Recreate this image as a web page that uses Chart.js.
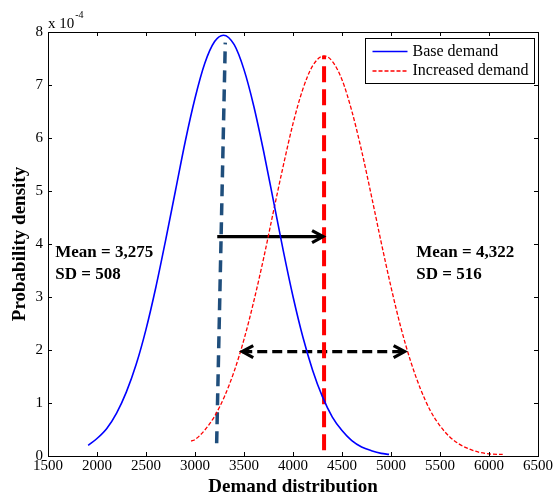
<!DOCTYPE html>
<html>
<head>
<meta charset="utf-8">
<script src="https://cdn.jsdelivr.net/npm/chart.js@4.4.1/dist/chart.umd.min.js"></script>
<style>
  html, body { margin: 0; padding: 0; background: #fff; }
  canvas { display: block; }
</style>
</head>
<body>
<canvas id="c" width="554" height="497"></canvas>
<script>
const SERIF = "'Liberation Serif','Times New Roman',Times,serif";

// Axis ticks (density axis is in units of 1e-4)
const xTicks = [1500, 2000, 2500, 3000, 3500, 4000, 4500, 5000, 5500, 6000, 6500];
const yTicks = [0, 1, 2, 3, 4, 5, 6, 7, 8];

// Base demand density curve
const baseDemandX = [1910, 2000, 2100, 2200, 2300, 2400, 2500, 2600, 2700, 2800, 2900, 3000, 3100, 3200, 3290,
                     3400, 3500, 3600, 3700, 3800, 3900, 4000, 4100, 4200, 4300, 4400, 4500, 4600, 4700, 4800, 4900, 4980];
const baseDemandY = [0.20, 0.33, 0.52, 0.81, 1.21, 1.73, 2.39, 3.18, 4.07, 5.00, 5.93, 6.75, 7.41, 7.82, 7.94,
                     7.76, 7.29, 6.60, 5.75, 4.82, 3.88, 3.01, 2.25, 1.62, 1.12, 0.74, 0.48, 0.29, 0.17, 0.10, 0.05, 0.03];

// Increased demand density curve
const increasedDemandX = [2960, 3000, 3100, 3200, 3300, 3400, 3500, 3600, 3700, 3800, 3900, 4000, 4100, 4200, 4317,
                          4400, 4500, 4600, 4700, 4800, 4900, 5000, 5100, 5200, 5300, 5400, 5500, 5600, 5700, 5800, 5900, 6000, 6100, 6140];
const increasedDemandY = [0.28, 0.31, 0.49, 0.75, 1.12, 1.60, 2.20, 2.92, 3.73, 4.61, 5.47, 6.27, 6.92, 7.36, 7.55,
                          7.45, 7.10, 6.51, 5.76, 4.91, 4.03, 3.19, 2.43, 1.79, 1.27, 0.86, 0.57, 0.36, 0.22, 0.13, 0.07, 0.04, 0.03, 0.03];

// Mean markers
const baseMeanX = [3221, 3309];
const baseMeanY = [0.24, 7.80];
const increasedMeanX = [4317, 4317];
const increasedMeanY = [0.11, 7.55];

// Arrows: shift of the mean, widening of the spread
const shiftArrowX = [3227, 4307];
const shiftArrowY = [4.14, 4.14];
const spreadArrowX = [3482, 5139];
const spreadArrowY = [1.97, 1.97];

// Summary statistics labels (anchor x, line y values)
const baseStatsText = ['Mean = 3,275', 'SD = 508'];
const baseStatsX = 1574;
const increasedStatsText = ['Mean = 4,322', 'SD = 516'];
const increasedStatsX = 5258;
const statsLineY = [3.84, 3.42];

const pts = (xs, ys) => xs.map((x, i) => ({ x, y: ys[i] }));

const decor = {
  id: 'decor',
  beforeDraw(chart) {
    const ctx = chart.ctx;
    ctx.save();
    ctx.fillStyle = '#fff';
    ctx.fillRect(0, 0, chart.width, chart.height);
    ctx.restore();
  },
  afterDatasetsDraw(chart) {
    const { ctx, scales: { x, y }, chartArea: a } = chart;
    ctx.save();

    // inward tick marks on all four sides
    ctx.strokeStyle = '#000';
    ctx.lineWidth = 1;
    ctx.setLineDash([]);
    ctx.beginPath();
    xTicks.forEach(v => {
      const px = Math.round(x.getPixelForValue(v)) + 0.5;
      ctx.moveTo(px, a.bottom); ctx.lineTo(px, a.bottom - 4);
      ctx.moveTo(px, a.top); ctx.lineTo(px, a.top + 4);
    });
    yTicks.forEach(v => {
      const py = Math.round(y.getPixelForValue(v)) + 0.5;
      ctx.moveTo(a.left, py); ctx.lineTo(a.left + 4, py);
      ctx.moveTo(a.right, py); ctx.lineTo(a.right - 4, py);
    });
    ctx.stroke();

    // open arrowheads
    const head = (xv, yv, dir) => {
      const px = x.getPixelForValue(xv), py = y.getPixelForValue(yv);
      ctx.beginPath();
      ctx.moveTo(px - dir * 11, py - 6);
      ctx.lineTo(px, py);
      ctx.lineTo(px - dir * 11, py + 6);
      ctx.stroke();
    };
    ctx.lineWidth = 3.2;
    ctx.lineJoin = 'miter';
    head(shiftArrowX[1], shiftArrowY[1], 1);
    head(spreadArrowX[0], spreadArrowY[0], -1);
    head(spreadArrowX[1], spreadArrowY[1], 1);

    // statistics labels
    ctx.fillStyle = '#000';
    ctx.font = `bold 17px ${SERIF}`;
    ctx.textAlign = 'left';
    ctx.textBaseline = 'middle';
    baseStatsText.forEach((t, i) => ctx.fillText(t, x.getPixelForValue(baseStatsX), y.getPixelForValue(statsLineY[i])));
    increasedStatsText.forEach((t, i) => ctx.fillText(t, x.getPixelForValue(increasedStatsX), y.getPixelForValue(statsLineY[i])));

    // exponent note above the density axis
    ctx.font = `15px ${SERIF}`;
    ctx.textBaseline = 'alphabetic';
    ctx.fillText('x 10', a.left, a.top - 4);
    const w = ctx.measureText('x 10').width;
    ctx.font = `10px ${SERIF}`;
    ctx.fillText('-4', a.left + w + 1, a.top - 14);

    // legend
    const lx = 365.5, ly = 38.5, lw = 169, lh = 45;
    ctx.fillStyle = '#fff';
    ctx.fillRect(lx, ly, lw, lh);
    ctx.strokeStyle = '#000';
    ctx.lineWidth = 1;
    ctx.strokeRect(lx, ly, lw, lh);
    const items = chart.data.datasets.slice(0, 2);
    items.forEach((ds, i) => {
      const yy = ly + 13 + i * 19.5;
      ctx.strokeStyle = ds.borderColor;
      ctx.lineWidth = ds.borderWidth;
      ctx.setLineDash(ds.borderDash || []);
      ctx.beginPath();
      ctx.moveTo(lx + 7, yy);
      ctx.lineTo(lx + 42, yy);
      ctx.stroke();
      ctx.setLineDash([]);
      ctx.fillStyle = '#000';
      ctx.font = `16px ${SERIF}`;
      ctx.textBaseline = 'middle';
      ctx.fillText(ds.label, lx + 47, yy);
    });

    ctx.restore();
  }
};

const axisFont = { family: SERIF, size: 15 };
const plainNumber = v => String(v);

new Chart(document.getElementById('c'), {
  type: 'line',
  data: {
    datasets: [
      { label: 'Base demand', data: pts(baseDemandX, baseDemandY), borderColor: '#0000ff', borderWidth: 1.6,
        pointRadius: 0, cubicInterpolationMode: 'monotone', fill: false },
      { label: 'Increased demand', data: pts(increasedDemandX, increasedDemandY), borderColor: '#ff0000', borderWidth: 1.3,
        borderDash: [4, 2], pointRadius: 0, cubicInterpolationMode: 'monotone', fill: false },
      { label: 'Base mean', data: pts(baseMeanX, baseMeanY), borderColor: '#1f4e7c', borderWidth: 3.5,
        borderDash: [12, 7], pointRadius: 0, fill: false },
      { label: 'Increased mean', data: pts(increasedMeanX, increasedMeanY), borderColor: '#ff0000', borderWidth: 4,
        borderDash: [16, 7], pointRadius: 0, fill: false },
      { label: 'Mean shift', data: pts(shiftArrowX, shiftArrowY), borderColor: '#000', borderWidth: 3.2,
        pointRadius: 0, fill: false },
      { label: 'Spread', data: pts(spreadArrowX, spreadArrowY), borderColor: '#000', borderWidth: 3.2,
        borderDash: [10, 5], pointRadius: 0, fill: false }
    ]
  },
  options: {
    responsive: false,
    animation: false,
    devicePixelRatio: 1,
    layout: { padding: { top: 32, right: 15, left: 0, bottom: 0 } },
    plugins: { legend: { display: false }, tooltip: { enabled: false } },
    scales: {
      x: {
        type: 'linear', position: 'bottom', min: 1500, max: 6500,
        afterBuildTicks: s => { s.ticks = xTicks.map(v => ({ value: v })); },
        ticks: { font: axisFont, color: '#000', padding: 1, maxRotation: 0, autoSkip: false, callback: plainNumber },
        grid: { display: false, drawTicks: false },
        border: { display: true, color: '#000', width: 1 },
        title: { display: true, text: 'Demand distribution', color: '#000',
                 font: { family: SERIF, size: 19, weight: 'bold', lineHeight: 1 }, padding: { top: 0, bottom: 0 } },
        afterFit: s => { s.height = 41; }
      },
      x2: {
        type: 'linear', position: 'top', min: 1500, max: 6500,
        ticks: { display: false }, grid: { display: false, drawTicks: false },
        border: { display: true, color: '#000', width: 1 },
        afterFit: s => { s.height = 0; }
      },
      y: {
        type: 'linear', position: 'left', min: 0, max: 8,
        afterBuildTicks: s => { s.ticks = yTicks.map(v => ({ value: v })); },
        ticks: { font: axisFont, color: '#000', padding: 5, callback: plainNumber },
        grid: { display: false, drawTicks: false },
        border: { display: true, color: '#000', width: 1 },
        title: { display: true, text: 'Probability density', color: '#000',
                 font: { family: SERIF, size: 19, weight: 'bold', lineHeight: 1 }, padding: { top: 11, bottom: 0 } },
        afterFit: s => { s.width = 48; }
      },
      y2: {
        type: 'linear', position: 'right', min: 0, max: 8,
        ticks: { display: false }, grid: { display: false, drawTicks: false },
        border: { display: true, color: '#000', width: 1 },
        afterFit: s => { s.width = 0; }
      }
    }
  },
  plugins: [decor]
});
</script>
</body>
</html>
